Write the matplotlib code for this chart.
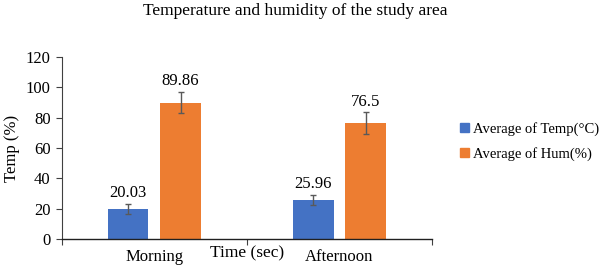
import matplotlib
matplotlib.use("Agg")
import matplotlib.pyplot as plt
import numpy as np
from matplotlib.patches import Patch

plt.rcParams['font.family'] = ['Liberation Serif', 'DejaVu Serif']

categories = ["Morning", "Afternoon"]
temp = [20.03, 25.96]
hum = [89.86, 76.5]
temp_err = [3.3, 3.2]
hum_err = [6.9, 7.0]
temp_labels = ["20.03", "25.96"]
hum_labels = ["89.86", "76.5"]

blue = "#4472C4"
orange = "#ED7D31"

fig = plt.figure(figsize=(6, 2.65), dpi=100)
ax = fig.add_axes([0.103, 0.098, 0.617, 0.687])

x = np.arange(len(categories))
w = 0.22
off = 0.142
ax.bar(x - off, temp, w, color=blue, yerr=temp_err, ecolor="#595959",
       error_kw=dict(elinewidth=1, capsize=2.5, capthick=1), zorder=2)
ax.bar(x + off, hum, w, color=orange, yerr=hum_err, ecolor="#595959",
       error_kw=dict(elinewidth=1, capsize=2.5, capthick=1), zorder=2)

for xi, v, e, lab in zip(x - off, temp, temp_err, temp_labels):
    ax.annotate(lab, (xi, v + e), xytext=(0, 2), textcoords="offset points",
                ha="center", va="bottom", fontsize=12)
for xi, v, e, lab in zip(x + off, hum, hum_err, hum_labels):
    ax.annotate(lab, (xi, v + e), xytext=(0, 2), textcoords="offset points",
                ha="center", va="bottom", fontsize=12)

ax.set_xlim(-0.5, 1.5)
ax.set_ylim(0, 120)
ax.set_yticks(np.arange(0, 121, 20))
ax.tick_params(axis='y', labelsize=12, length=4, width=0.8, color="#404040", pad=4)
ax.set_xticks([-0.5, 0.5, 1.5])
ax.set_xticklabels([])
ax.tick_params(axis='x', length=4, width=0.8, color="#404040")
for xi, c in zip(x, categories):
    ax.text(xi, -0.055, c, transform=ax.get_xaxis_transform(), ha="center",
            va="top", fontsize=12)
ax.text(0.5, -0.035, "Time (sec)", transform=ax.transAxes, ha="center",
        va="top", fontsize=12.5)

for s in ["top", "right"]:
    ax.spines[s].set_visible(False)
ax.spines["left"].set_color("#404040")
ax.spines["bottom"].set_color("#202020")
ax.spines["left"].set_linewidth(0.8)
ax.spines["bottom"].set_linewidth(1.0)

ax.set_ylabel("Temp (%)", fontsize=12, labelpad=4)
fig.text(0.492, 0.96, "Temperature and humidity of the study area", ha="center",
         va="center", fontsize=12.5)

handles = [Patch(color=blue), Patch(color=orange)]
fig.legend(handles, ["Average of Temp(\u00b0C)", "Average of Hum(%)"],
           loc="upper left", bbox_to_anchor=(0.745, 0.59), frameon=False,
           fontsize=10.5, handlelength=0.6, handleheight=0.6, handletextpad=0.3,
           labelspacing=0.75)

fig.savefig("out.png", dpi=100)
